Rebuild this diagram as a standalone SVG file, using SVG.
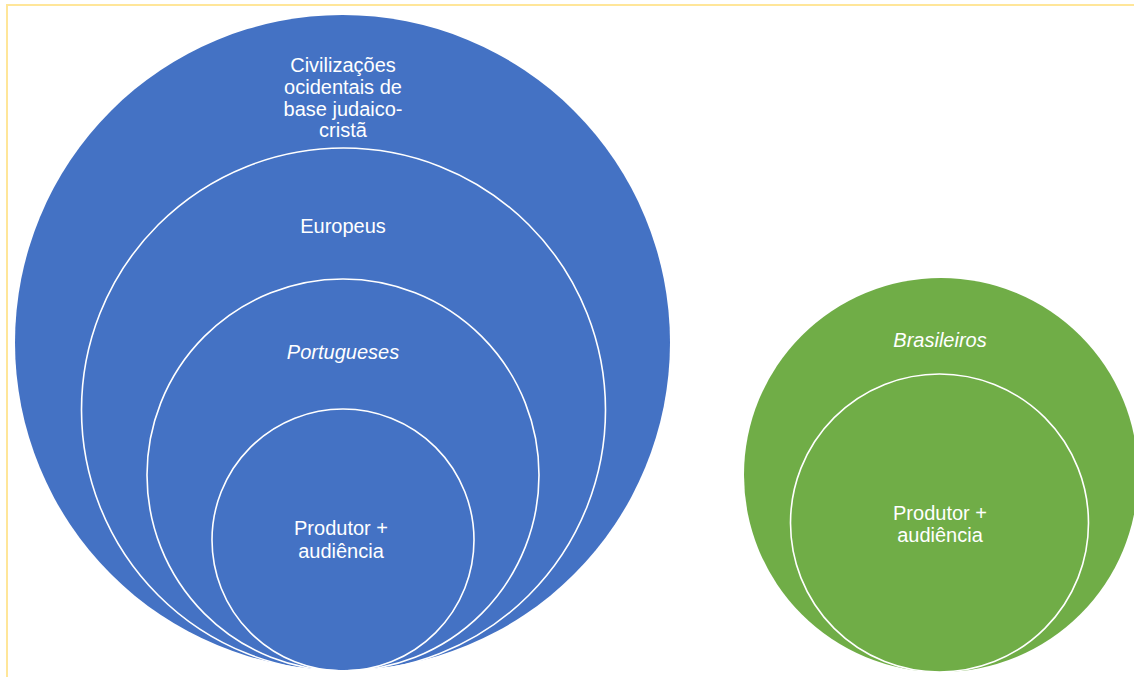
<svg xmlns="http://www.w3.org/2000/svg" width="1134" height="677" viewBox="0 0 1134 677">
  <style>
    .blue { fill: #4472C4; }
    .green { fill: #70AD47; }
    .ring { fill: none; stroke: #ffffff; stroke-width: 1.6; }
    .lbl { font-family: "Liberation Sans", Arial, sans-serif; font-size: 20px; fill: #ffffff; text-anchor: middle; }
    .it { font-style: italic; }
    .frame { stroke: #FFE699; stroke-width: 2; fill: none; }
  </style>
  <rect width="1134" height="677" fill="#ffffff"/>
  <!-- page frame -->
  <path class="frame" d="M7,677 V5 H1134"/>

  <!-- nested set: western civilisation -->
  <g id="civilizacoes">
    <circle class="blue" cx="342.5" cy="342.5" r="327.5"/>
    <text class="lbl" x="343" y="72">Civilizações</text>
    <text class="lbl" x="343" y="94">ocidentais de</text>
    <text class="lbl" x="343" y="116">base judaico-</text>
    <text class="lbl" x="343" y="137">cristã</text>
  </g>
  <g id="europeus">
    <circle class="ring" cx="343.5" cy="410" r="262"/>
    <text class="lbl" x="343" y="233">Europeus</text>
  </g>
  <g id="portugueses">
    <circle class="ring" cx="343" cy="475" r="196"/>
    <text class="lbl it" x="343" y="359">Portugueses</text>
  </g>
  <g id="produtor-pt">
    <circle class="ring" cx="343" cy="540" r="131"/>
    <text class="lbl" x="341" y="535">Produtor +</text>
    <text class="lbl" x="341" y="558">audiência</text>
  </g>

  <!-- Brazilian set -->
  <g id="brasileiros">
    <circle class="green" cx="941" cy="475" r="197"/>
    <text class="lbl it" x="940" y="347">Brasileiros</text>
  </g>
  <g id="produtor-br">
    <circle class="ring" cx="939.5" cy="523" r="149"/>
    <text class="lbl" x="940" y="520">Produtor +</text>
    <text class="lbl" x="940" y="542">audiência</text>
  </g>

  <g id="connectors"/>
</svg>
